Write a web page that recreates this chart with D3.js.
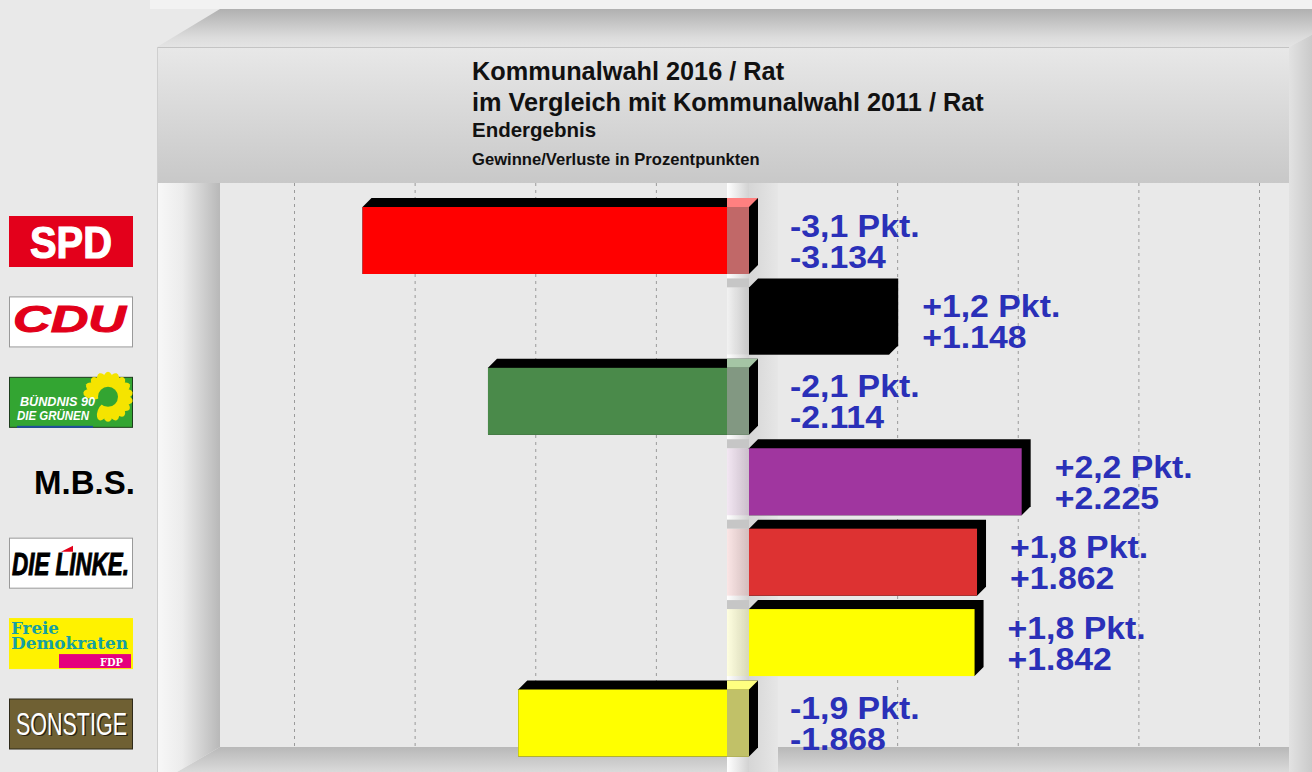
<!DOCTYPE html>
<html>
<head>
<meta charset="utf-8">
<script src="https://cdn.jsdelivr.net/npm/d3@7"></script>
<style>
  body { margin: 0; background: #e9e9e9; }
  svg { display: block; font-family: "Liberation Sans", Arial, sans-serif; }
</style>
</head>
<body>
<div id="chart"></div>
<script>
// Kommunalwahl 2016 vs 2011 - gains/losses per party

const parties = ["SPD", "CDU", "GRUENE", "MBS", "LINKE", "FDP", "SONSTIGE"];
const voteChange = [-3134, 1148, -2114, 2225, 1862, 1842, -1868];
const pointChange = [-3.1, 1.2, -2.1, 2.2, 1.8, 1.8, -1.9];
const partyColors = ["#ff0000", "#000000", "#4a8a4a", "#a0369f", "#dd3232", "#ffff00", "#ffff00"];
const gridTicks = [-4000, -3000, -2000, -1000, 1000, 2000, 3000, 4000];
const titleLines = ["Kommunalwahl 2016 / Rat", "im Vergleich mit Kommunalwahl 2011 / Rat"];
const subTitle = "Endergebnis";
const subSubTitle = "Gewinne/Verluste in Prozentpunkten";

const width = 1312, height = 772;
const frame = { left: 157, inner: 220, right: 1289, top: 9, panelTop: 47, plotTop: 183, floor: 747 };
const wall = { left: 727, back: 778 };
const barH = 67, depth = 9;

const de = d3.formatLocale({ decimal: ",", thousands: ".", grouping: [3], currency: ["", " €"], minus: "-" });
const fmtPkt = de.format("+.1f");
const fmtVotes = de.format("+,");

const data = parties.map((p, i) => ({
  party: p, votes: voteChange[i], pkt: pointChange[i], color: partyColors[i]
}));

const svg = d3.select("#chart").append("svg")
  .attr("width", width)
  .attr("height", height);

const defs = svg.append("defs");
function grad(id, x2, y2, stops) {
  const g = defs.append("linearGradient").attr("id", id)
    .attr("x1", 0).attr("y1", 0).attr("x2", x2).attr("y2", y2);
  stops.forEach(([o, c]) => g.append("stop").attr("offset", o).attr("stop-color", c));
}
grad("topBevel", 0, 1, [[0, "#b0b0b0"], [0.75, "#dcdcdc"], [1, "#e4e4e4"]]);
grad("panel", 0, 1, [[0, "#e8e8e8"], [1, "#c8c8c8"]]);
grad("leftWall", 1, 0, [[0, "#f8f8f8"], [0.4, "#ececec"], [1, "#b8b8b8"]]);
grad("floor", 0, 1, [[0, "#b8b8b8"], [1, "#dadada"]]);
grad("rightBevel", 1, 0, [[0, "#e2e2e2"], [0.35, "#c8c8c8"], [1, "#a6a6a6"]]);
grad("wallFront", 1, 0, [[0, "#ffffff"], [1, "#d2d2d2"]]);
grad("wallSide", 1, 0, [[0, "#d6d6d6"], [1, "#e6e6e6"]]);

// scales
const x = d3.scaleLinear().domain([-4000, 4000]).range([256, 1240]);
const gx = d3.scaleLinear().domain([-4000, 4000]).range([294, 1259]);
const y = d3.scalePoint().domain(parties).range([240.5, 723]);

// --- 3D frame ---
svg.append("rect").attr("x", 150).attr("y", 0).attr("width", width - 150).attr("height", frame.top)
  .attr("fill", "#f2f2f2");
svg.append("polygon")
  .attr("points", [[frame.left, frame.panelTop], [frame.inner, frame.top], [1360, frame.top], [frame.right, frame.panelTop]].join(" "))
  .attr("fill", "url(#topBevel)");
svg.append("rect")
  .attr("x", frame.left).attr("y", frame.panelTop)
  .attr("width", frame.right - frame.left).attr("height", frame.plotTop - frame.panelTop)
  .attr("fill", "url(#panel)");
svg.append("line")
  .attr("x1", frame.left).attr("x2", frame.right).attr("y1", frame.panelTop + 0.5).attr("y2", frame.panelTop + 0.5)
  .attr("stroke", "#c4c4c4");
svg.append("polygon")
  .attr("points", [[frame.right, frame.panelTop], [1360, frame.top], [1360, height], [frame.right, height]].join(" "))
  .attr("fill", "url(#rightBevel)");
svg.append("rect")
  .attr("x", frame.inner).attr("y", frame.plotTop)
  .attr("width", frame.right - frame.inner).attr("height", frame.floor - frame.plotTop)
  .attr("fill", "#e9e9e9");
svg.append("polygon")
  .attr("points", [[frame.inner, frame.floor], [frame.right, frame.floor], [frame.right, height], [frame.left + 20, height]].join(" "))
  .attr("fill", "url(#floor)");
svg.append("polygon")
  .attr("points", [[frame.left, frame.plotTop], [frame.inner, frame.plotTop], [frame.inner, frame.floor], [frame.left + 20, height], [frame.left, height]].join(" "))
  .attr("fill", "url(#leftWall)");
svg.append("line")
  .attr("x1", frame.left + 0.5).attr("x2", frame.left + 0.5).attr("y1", frame.panelTop).attr("y2", height)
  .attr("stroke", "#cfcfcf");

// --- grid (back wall) ---
const grid = svg.append("g")
  .attr("transform", `translate(0,${frame.plotTop})`)
  .call(d3.axisBottom(gx).tickValues(gridTicks).tickSize(frame.floor - frame.plotTop).tickFormat(""));
grid.select(".domain").remove();
grid.selectAll(".tick line")
  .attr("stroke", "#9a9a9a")
  .attr("stroke-dasharray", "3,4");

// --- zero wall ---
svg.append("rect")
  .attr("x", x(0) + 1).attr("y", frame.plotTop)
  .attr("width", wall.back - x(0) - 1).attr("height", height - frame.plotTop)
  .attr("fill", "url(#wallSide)");
svg.append("rect")
  .attr("x", wall.left).attr("y", frame.plotTop)
  .attr("width", x(0) + 1 - wall.left).attr("height", height - frame.plotTop)
  .attr("fill", "url(#wallFront)");

// --- bars ---
const bars = svg.append("g").selectAll("g").data(data).join("g");

function stretched(g, t, px, py) {
  const el = g.append("text").attr("x", px).attr("y", py).text(t)
    .attr("fill", "#2a30b8")
    .style("font-size", "31px")
    .style("font-weight", "700");
  el.attr("textLength", el.node().getComputedTextLength() * 1.09).attr("lengthAdjust", "spacingAndGlyphs");
}

bars.each(function (d) {
  const g = d3.select(this);
  const yF = y(d.party) - barH / 2, yB = y(d.party) + barH / 2, yT = yF - depth;
  const z = x(0) + 1;
  const x0 = d.votes < 0 ? x(d.votes) : z;
  const x1 = d.votes < 0 ? z : x(d.votes);

  // top + side faces (black extrusion)
  g.append("polygon")
    .attr("points", [[x0, yF], [x0 + depth, yT], [x1 + depth, yT], [x1 + depth, yB - depth], [x1, yB], [x0, yB]].join(" "))
    .attr("fill", "#000");
  g.append("rect")
    .attr("x", x0).attr("y", yF).attr("width", x1 - x0).attr("height", barH)
    .attr("fill", d.color);

  if (d.votes < 0) {
    // part of the bar seen through the zero wall
    g.append("rect")
      .attr("x", wall.left).attr("y", yF).attr("width", z - wall.left).attr("height", barH)
      .attr("fill", "#9f9f9f").attr("opacity", 0.65);
    g.append("polygon")
      .attr("points", [[wall.left, yT], [z + depth, yT], [z, yF], [wall.left, yF]].join(" "))
      .attr("fill", d3.interpolateRgb(d.color, "#ffffff")(0.5));
  } else {
    g.append("rect")
      .attr("x", wall.left).attr("y", yF).attr("width", z - wall.left).attr("height", barH)
      .attr("fill", d.color).attr("opacity", d.color === "#000000" ? 0.05 : 0.12);
    g.append("rect")
      .attr("x", wall.left).attr("y", yT).attr("width", z - wall.left).attr("height", depth)
      .attr("fill", "#c6c6c6");
  }

  const lx = d.votes < 0 ? 790 : x(d.votes) + 33;
  stretched(g, fmtPkt(d.pkt) + " Pkt.", lx, y(d.party) - 4);
  stretched(g, fmtVotes(d.votes), lx, y(d.party) + 27);
});

// --- title ---
const title = svg.append("g").attr("fill", "#111").style("font-weight", "700");
title.append("text").attr("x", 472).attr("y", 80).style("font-size", "25.3px").text(titleLines[0]);
title.append("text").attr("x", 472).attr("y", 111).style("font-size", "25.3px").text(titleLines[1]);
title.append("text").attr("x", 472).attr("y", 137).style("font-size", "20.5px").text(subTitle);
title.append("text").attr("x", 472).attr("y", 165).style("font-size", "16.6px").text(subSubTitle);

// --- party logos ---
const logoW = 124, logoH = 51;
const logos = svg.append("g").selectAll("g").data(data).join("g")
  .attr("transform", d => `translate(9,${y(d.party) + 1 - logoH / 2})`);

function box(g, fill, stroke) {
  g.append("rect").attr("x", 0.5).attr("y", 0.5).attr("width", logoW - 1).attr("height", logoH - 1)
    .attr("fill", fill).attr("stroke", stroke);
}
function word(g, t, px, py, size, fill, opts = {}) {
  const el = g.append("text").attr("x", px).attr("y", py).text(t)
    .attr("fill", fill).style("font-size", size + "px")
    .style("font-weight", opts.weight || "700")
    .style("font-style", opts.italic ? "italic" : "normal");
  if (opts.family) el.style("font-family", opts.family);
  if (opts.len) el.attr("textLength", opts.len).attr("lengthAdjust", "spacingAndGlyphs");
  return el;
}

logos.each(function (d) {
  const g = d3.select(this);
  if (d.party === "SPD") {
    box(g, "#e3001b", "#e3001b");
    word(g, "SPD", 21, 42, 45, "#fff", { weight: "900", len: 82 }).attr("stroke", "#fff").attr("stroke-width", 1.2);
  } else if (d.party === "CDU") {
    box(g, "#fff", "#9a9a9a");
    word(g, "CDU", 4, 36, 37, "#e2001a", { weight: "900", italic: true, len: 113 }).attr("stroke", "#e2001a").attr("stroke-width", 1);
  } else if (d.party === "GRUENE") {
    box(g, "#33a532", "#1d3d1d");
    const sun = g.append("g").attr("transform", "translate(99,20)");
    d3.range(15).forEach(k => {
      const a = -80 + k * 20;
      sun.append("ellipse").attr("cx", 0).attr("cy", -16).attr("rx", 5).attr("ry", 9)
        .attr("transform", `rotate(${a})`).attr("fill", "#f5e400");
    });
    sun.append("circle").attr("r", 10).attr("fill", "#33a532");
    word(g, "BÜNDNIS 90", 11, 29, 13, "#fff", { weight: "900", italic: true, len: 75 });
    word(g, "DIE GRÜNEN", 8, 43, 13, "#fff", { weight: "900", italic: true, len: 72 });
    g.append("rect").attr("x", 8).attr("y", 49).attr("width", 76).attr("height", 2).attr("fill", "#1f4e9c");
  } else if (d.party === "MBS") {
    word(g, "M.B.S.", 25, 37, 33, "#000", { weight: "700" });
  } else if (d.party === "LINKE") {
    box(g, "#fff", "#9a9a9a");
    word(g, "DIE LINKE.", 3, 37, 32, "#000", { weight: "900", italic: true, len: 117 }).attr("stroke", "#000").attr("stroke-width", 1);
    g.append("polygon").attr("points", "52,14 64,8 64,14").attr("fill", "#e3001b");
  } else if (d.party === "FDP") {
    box(g, "#fff200", "#fff200");
    word(g, "Freie", 2, 16, 16, "#15a0a2", { weight: "700", family: "DejaVu Serif", len: 48 });
    word(g, "Demokraten", 2, 31, 16, "#15a0a2", { weight: "700", family: "DejaVu Serif", len: 117 });
    g.append("rect").attr("x", 50).attr("y", 36).attr("width", 72).attr("height", 14).attr("fill", "#e5007d");
    word(g, "FDP", 91, 48, 11, "#fff", { weight: "700", family: "DejaVu Serif", len: 23 });
  } else if (d.party === "SONSTIGE") {
    box(g, "#6f6033", "#2f2a1a");
    word(g, "SONSTIGE", 8.5, 37.5, 31, "#2a2414", { weight: "400", len: 111 });
    word(g, "SONSTIGE", 7, 36, 31, "#fff", { weight: "400", len: 111 });
  }
});
</script>
</body>
</html>
